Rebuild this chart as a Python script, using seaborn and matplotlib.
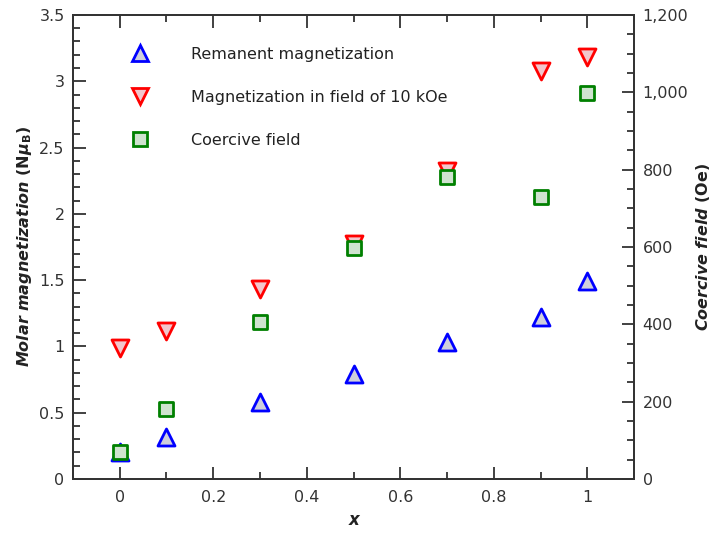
import matplotlib
matplotlib.use('Agg')
import matplotlib.pyplot as plt
from matplotlib.ticker import MultipleLocator, FuncFormatter
from matplotlib.lines import Line2D
import seaborn as sns
import pandas as pd

x = [0, 0.1, 0.3, 0.5, 0.7, 0.9, 1.0]
remanent = [0.20, 0.32, 0.58, 0.79, 1.03, 1.22, 1.49]
mag_10koe = [0.99, 1.12, 1.43, 1.77, 2.32, 3.08, 3.18]
coercive = [70, 181, 406, 597, 781, 729, 998]

labels = ['Remanent magnetization', 'Magnetization in field of 10 kOe', 'Coercive field']

df = pd.DataFrame({'x': x, 'rem': remanent, 'mag': mag_10koe, 'hc': coercive})

sns.set_style('ticks')
plt.rcParams['font.family'] = ['DejaVu Sans']
plt.rcParams['mathtext.fontset'] = 'dejavusans'

fig = plt.figure(figsize=(7.15, 5.34), dpi=100)
ax = fig.add_axes([0.102, 0.103, 0.785, 0.869])
ax2 = ax.twinx()

sns.scatterplot(data=df, x='x', y='rem', ax=ax, marker='^', s=150,
                facecolor='#cfcfdc', edgecolor='#0000ff', linewidth=2, zorder=3)
sns.scatterplot(data=df, x='x', y='mag', ax=ax, marker='v', s=150,
                facecolor='#f2c6cc', edgecolor='#ff0000', linewidth=2, zorder=3)
sns.scatterplot(data=df, x='x', y='hc', ax=ax2, marker='s', s=100,
                facecolor='#cfe3cf', edgecolor='#008000', linewidth=2, zorder=3)

ax.set_xlim(-0.1, 1.1)
ax.set_ylim(0, 3.5)
ax2.set_ylim(0, 1200)

ax.xaxis.set_major_locator(MultipleLocator(0.2))
ax.xaxis.set_minor_locator(MultipleLocator(0.1))
ax.yaxis.set_major_locator(MultipleLocator(0.5))
ax.yaxis.set_minor_locator(MultipleLocator(0.1))
ax2.yaxis.set_major_locator(MultipleLocator(200))
ax2.yaxis.set_minor_locator(MultipleLocator(50))

ax.xaxis.set_major_formatter(FuncFormatter(lambda v, p: '{:g}'.format(round(v, 2))))
ax.yaxis.set_major_formatter(FuncFormatter(lambda v, p: '{:g}'.format(round(v, 2))))
ax2.yaxis.set_major_formatter(FuncFormatter(lambda v, p: '{:,.0f}'.format(v)))

tc = '#333333'
ax.tick_params(axis='x', which='both', direction='in', top=True, labelsize=11.5,
               labelcolor=tc, color=tc, pad=8)
ax.tick_params(axis='y', which='both', direction='in', right=False, labelsize=11.5,
               labelcolor=tc, color=tc, pad=6)
ax2.tick_params(axis='y', which='both', direction='in', labelsize=11.5,
                labelcolor=tc, color=tc, pad=6)
for a in (ax, ax2):
    a.tick_params(which='major', length=9, width=1.3)
    a.tick_params(which='minor', length=5, width=1.3)
    for sp in a.spines.values():
        sp.set_color(tc)
        sp.set_linewidth(1.3)

ax.set_xlabel('x', fontsize=12, fontweight='bold', fontstyle='italic', color='#222222', labelpad=4)
ax.set_ylabel(r'$\mathbfit{Molar\ magnetization}\ \mathbf{(N\boldsymbol{\mu}_B)}$', fontsize=11.5,
              color='#222222', labelpad=4)
ax2.set_ylabel(r'$\mathbfit{Coercive\ field}\ \mathbf{(Oe)}$', fontsize=11.5,
               color='#222222', rotation=90, labelpad=4)

handles = [
    Line2D([], [], ls='none', marker='^', ms=12, mfc='#cfcfdc', mec='#0000ff', mew=2),
    Line2D([], [], ls='none', marker='v', ms=12, mfc='#f2c6cc', mec='#ff0000', mew=2),
    Line2D([], [], ls='none', marker='s', ms=10, mfc='#cfe3cf', mec='#008000', mew=2),
]
leg = ax.legend(handles, labels, loc='upper left', bbox_to_anchor=(0.08, 0.945), frameon=False,
                fontsize=11.5, handletextpad=2.2, labelspacing=1.75, borderaxespad=0)
for t in leg.get_texts():
    t.set_color('#222222')

fig.savefig('out.png', dpi=100)
